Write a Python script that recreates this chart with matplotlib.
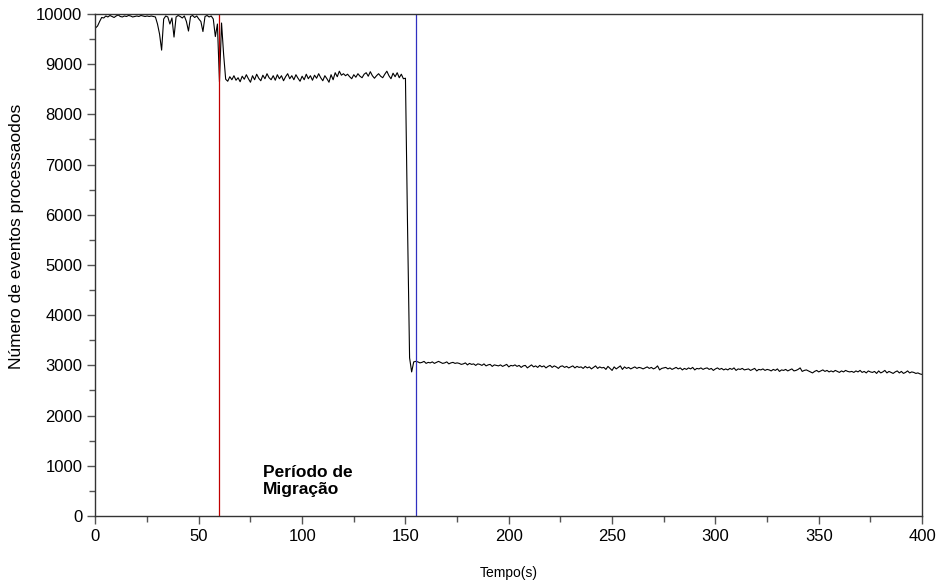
import numpy as np
import matplotlib
matplotlib.use("Agg")
import matplotlib.pyplot as plt

plt.rcParams['font.family'] = ['Liberation Sans', 'DejaVu Sans']

# events processed per second (t = 0..400 s)
seg_before = [9720, 9760, 9850, 9930, 9920, 9960, 9940, 9970, 9950, 9930,
              9960, 9980, 9950, 9940, 9960, 9950, 9970, 9960, 9940, 9950,
              9960, 9950, 9970, 9960, 9950, 9960, 9950, 9960, 9950, 9940,
              9800, 9600, 9280, 9900, 9960, 9940, 9800, 9920, 9540, 9940,
              9970, 9950, 9920, 9960, 9850, 9660, 9950, 9970, 9930, 9960,
              9900, 9850, 9650, 9950, 9970, 9940, 9960, 9900, 9550, 9800,
              8650, 9820, 9200]
seg_migration = [8700, 8660, 8750, 8690, 8770, 8680, 8730, 8650, 8760, 8700,
                 8790, 8710, 8640, 8770, 8690, 8800, 8720, 8670, 8780, 8710,
                 8810, 8730, 8690, 8770, 8680, 8790, 8710, 8770, 8670, 8750,
                 8810, 8710, 8770, 8690, 8790, 8720, 8660, 8760, 8690, 8800,
                 8710, 8770, 8680, 8780, 8720, 8810, 8730, 8670, 8770, 8710,
                 8640, 8790, 8690, 8830, 8750, 8860, 8780, 8810, 8770, 8800,
                 8750, 8710, 8790, 8740, 8810, 8760, 8730, 8800, 8830, 8760,
                 8850, 8770, 8720, 8770, 8810, 8760, 8730, 8800, 8860, 8770,
                 8710, 8820, 8750, 8830, 8730, 8800, 8710, 8720,
                 5800, 3150, 2870, 3070, 3080]
seg_after = [3070, 3050, 3060, 3080, 3040, 3060, 3050, 3070, 3040, 3060,
             3080, 3060, 3040, 3050, 3070, 3030, 3050, 3060, 3040, 3050,
             3040, 3020, 3030, 3050, 3010, 3040, 3020, 3030, 3000, 3030,
             3020, 3000, 3030, 2990, 3010, 3020, 2980, 3010, 3000, 2990,
             3010, 2980, 3000, 3020, 2970, 3000, 2990, 3010, 2980, 3000,
             2960, 2990, 3000, 2950, 2980, 3010, 2970, 2990, 2960, 3000,
             2970, 2990, 2950, 2980, 3000, 2960, 2990, 2970, 2940, 2980,
             2990, 2960, 2980, 2950, 2970, 2990, 2950, 2980, 2960, 2970,
             2940, 2980, 2950, 2970, 2930, 2960, 2990, 2940, 2970, 2950,
             2960, 2920, 2980, 2940, 2900, 2970, 2930, 2960, 2990, 2920,
             2970, 2940, 2960, 2930, 2950, 2970, 2940, 2960, 2950, 2930,
             2950, 2970, 2940, 2960, 2930, 2950, 2990, 2910, 2940, 2950,
             2960, 2930, 2950, 2920, 2940, 2960, 2930, 2950, 2910, 2940,
             2920, 2950, 2930, 2960, 2910, 2940, 2930, 2950, 2920, 2940,
             2950, 2920, 2940, 2900, 2930, 2950, 2920, 2940, 2910, 2930,
             2910, 2940, 2920, 2950, 2900, 2930, 2920, 2940, 2910, 2920,
             2930, 2900, 2920, 2940, 2890, 2920, 2910, 2930, 2900, 2920,
             2910, 2890, 2920, 2900, 2930, 2880, 2910, 2900, 2920, 2890,
             2910, 2930, 2890, 2900, 2920, 2950, 2880, 2900, 2910, 2890,
             2870, 2850, 2880, 2900, 2870, 2890, 2910, 2880, 2900, 2870,
             2890, 2870, 2900, 2880, 2860, 2890, 2870, 2900, 2880, 2870,
             2880, 2860, 2890, 2870, 2900, 2860, 2880, 2850, 2890, 2870,
             2860, 2880, 2840, 2890, 2850, 2870, 2900, 2850, 2880, 2860,
             2840, 2870, 2890, 2850, 2880, 2840, 2860, 2890, 2850, 2870,
             2860, 2840, 2850, 2830, 2820]
events = seg_before + seg_migration + seg_after
times = np.arange(len(events))

migration_start = 60
migration_end = 155

x_ticks = [0, 50, 100, 150, 200, 250, 300, 350, 400]
y_ticks = [0, 1000, 2000, 3000, 4000, 5000, 6000, 7000, 8000, 9000, 10000]

fig = plt.figure(figsize=(9.38, 5.82), dpi=100)
ax = fig.add_axes([0.1018, 0.1134, 0.8812, 0.8626])

ax.plot(times, events, color='black', lw=0.8)
ax.axvline(migration_start, color='#c00000', lw=0.9)
ax.axvline(migration_end, color='#3030c0', lw=0.9)

ax.text(81, 700, 'Período de\nMigração', fontsize=12.5, fontweight='bold',
        va='center', ha='left', linespacing=1.15)

ax.set_xlim(0, 400)
ax.set_ylim(0, 10000)
ax.set_xticks(x_ticks)
ax.set_yticks(y_ticks)
ax.set_xticks(np.arange(0, 401, 25), minor=True)
ax.set_yticks(np.arange(0, 10001, 500), minor=True)
ax.tick_params(which='major', direction='out', length=6, width=1, color='#555555',
               labelsize=12, top=False, right=False)
ax.tick_params(which='minor', direction='out', length=4.5, width=1, color='#555555',
               top=False, right=False)
for s in ax.spines.values():
    s.set_color('#333333')
    s.set_linewidth(1)

ax.set_xlabel('Tempo(s)', fontsize=10, labelpad=16)
ax.set_ylabel('Número de eventos processaodos', fontsize=12.5)
ax.yaxis.set_label_coords(-0.086, 0.556)

fig.savefig('out.png', dpi=100)
